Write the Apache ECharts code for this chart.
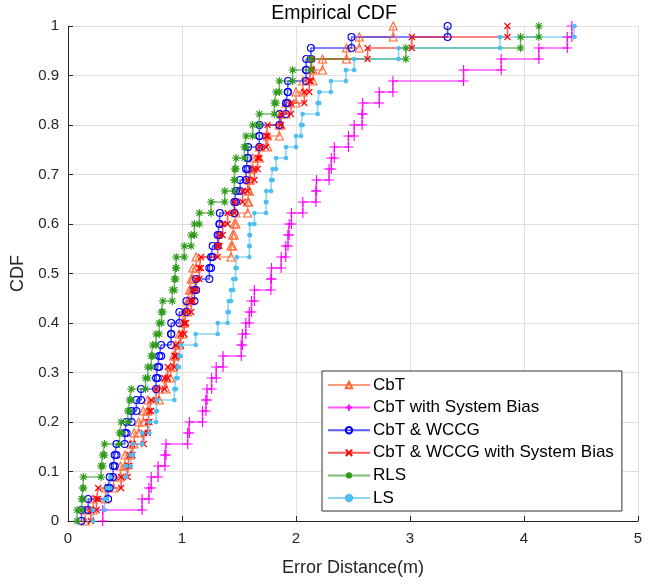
<!DOCTYPE html>
<html>
<head>
<meta charset="utf-8">
<script src="https://cdn.jsdelivr.net/npm/echarts@6/dist/echarts.min.js"></script>
<style>
html,body{margin:0;padding:0;background:#fff;}
#c{width:668px;height:584px;}
</style>
</head>
<body>
<div id="c"></div>
<script>
// Sorted sample values (error distance, m) for each method; 45 samples each
const N = 45;
const cbt = [0.15,0.22,0.33,0.40,0.46,0.50,0.55,0.58,0.62,0.66,0.70,0.80,0.86,0.90,0.925,0.945,0.977,1.006,1.02,1.05,1.065,1.08,1.095,1.124,1.43,1.444,1.459,1.474,1.576,1.585,1.59,1.60,1.62,1.678,1.751,1.854,1.868,1.912,2.0,2.06,2.15,2.233,2.443,2.555,2.853];
const cbtBias = [0.305,0.65,0.71,0.73,0.79,0.85,0.86,1.05,1.065,1.18,1.21,1.22,1.26,1.30,1.36,1.52,1.53,1.56,1.59,1.61,1.635,1.78,1.785,1.87,1.91,1.93,1.94,1.96,2.06,2.175,2.18,2.29,2.31,2.336,2.46,2.51,2.58,2.585,2.73,2.85,3.47,3.80,4.13,4.38,4.42];
const cbtWccg = [0.118,0.177,0.352,0.366,0.396,0.41,0.425,0.498,0.513,0.557,0.60,0.641,0.773,0.787,0.80,0.817,0.904,0.906,0.977,1.04,1.109,1.124,1.24,1.255,1.269,1.313,1.328,1.332,1.46,1.474,1.51,1.562,1.576,1.58,1.678,1.68,1.854,1.912,1.927,1.93,2.088,2.09,2.131,2.487,3.33];
const cbtWccgBias = [0.20,0.25,0.265,0.466,0.524,0.539,0.565,0.665,0.70,0.714,0.729,0.773,0.846,0.875,0.933,0.948,0.99,1.021,1.036,1.08,1.094,1.124,1.152,1.167,1.313,1.328,1.357,1.40,1.46,1.532,1.576,1.635,1.664,1.68,1.737,1.751,1.868,1.956,2.073,2.117,2.13,2.14,2.628,3.016,3.855];
const rls = [0.08,0.12,0.13,0.135,0.29,0.305,0.32,0.452,0.467,0.525,0.54,0.554,0.68,0.70,0.73,0.743,0.773,0.80,0.82,0.831,0.915,0.933,0.945,0.95,1.02,1.08,1.109,1.152,1.255,1.375,1.459,1.462,1.474,1.547,1.562,1.62,1.678,1.81,1.825,1.854,1.97,2.13,2.964,3.97,4.13];
const ls = [0.22,0.32,0.34,0.37,0.51,0.55,0.57,0.65,0.714,0.773,0.78,0.933,0.948,0.962,0.975,0.99,1.12,1.313,1.40,1.41,1.43,1.45,1.47,1.48,1.591,1.593,1.595,1.635,1.737,1.74,1.781,1.795,1.825,1.912,2.0,2.044,2.058,2.19,2.204,2.306,2.438,2.51,2.90,3.79,4.44];

const seriesNames = ['CbT','CbT with System Bias','CbT & WCCG','CbT & WCCG with System Bias','RLS','LS'];
const xTicks = [0,1,2,3,4,5];
const yTicks = [0,0.1,0.2,0.3,0.4,0.5,0.6,0.7,0.8,0.9,1];

function stairs(xs){
  const pts = [];
  xs.forEach(function(x,i){
    pts.push([x, i/N]);
    pts.push([x, (i+1)/N]);
  });
  return pts;
}

const P = {
  plus: 'path://M0,-1L0,1M-1,0L1,0',
  cross: 'path://M-1,-1L1,1M-1,1L1,-1',
  star: 'path://M0,-1L0,1M-1,0L1,0M-0.72,-0.72L0.72,0.72M-0.72,0.72L0.72,-0.72'
};

function mk(name, data, color, symbol, size, fill){
  return {
    name: name,
    type: 'line',
    data: stairs(data),
    symbol: symbol,
    symbolSize: size,
    showSymbol: true,
    animation: false,
    lineStyle: {color: color, width: 1.6, opacity: 0.65},
    itemStyle: {color: fill ? color : 'rgba(255,255,255,0)', borderColor: color, borderWidth: 1.1},
    emphasis: {disabled: true}
  };
}

const chart = echarts.init(document.getElementById('c'), null, {renderer: 'canvas'});
const FONT = 'Liberation Sans, Arial, Helvetica, sans-serif';
chart.setOption({
  animation: false,
  backgroundColor: '#ffffff',
  title: {
    text: 'Empirical CDF',
    left: 'center',
    top: -1,
    textStyle: {fontFamily: FONT, fontSize: 19.5, fontWeight: 'normal', color: '#000'}
  },
  grid: {left: 68, right: 30, top: 26, bottom: 63, containLabel: false},
  legend: {
    orient: 'vertical',
    left: 322,
    top: 371,
    padding: [5, 8, 4, 5],
    itemWidth: 42,
    itemHeight: 8,
    itemGap: 4.6,
    backgroundColor: '#fff',
    borderColor: '#333',
    borderWidth: 1,
    borderRadius: 0,
    textStyle: {fontFamily: FONT, fontSize: 17, color: '#000', lineHeight: 18, padding: [0,0,0,-2]},
    data: seriesNames
  },
  xAxis: {
    type: 'value', min: xTicks[0], max: xTicks[xTicks.length-1], interval: 1,
    name: 'Error Distance(m)', nameLocation: 'middle', nameGap: 38,
    nameTextStyle: {fontFamily: FONT, fontSize: 18, color: '#262626'},
    axisLine: {show: true, lineStyle: {color: '#262626', width: 1}},
    axisTick: {show: true, inside: true, length: 5, lineStyle: {color: '#262626'}},
    axisLabel: {fontFamily: FONT, fontSize: 15, color: '#262626', margin: 10},
    splitLine: {show: true, lineStyle: {color: '#dfdfdf', width: 1}}
  },
  yAxis: {
    type: 'value', min: yTicks[0], max: yTicks[yTicks.length-1], interval: 0.1,
    name: 'CDF', nameLocation: 'middle', nameGap: 35, nameRotate: 90,
    nameTextStyle: {fontFamily: FONT, fontSize: 18, color: '#262626'},
    axisLine: {show: true, lineStyle: {color: '#262626', width: 1}},
    axisTick: {show: true, inside: true, length: 5, lineStyle: {color: '#262626'}},
    axisLabel: {fontFamily: FONT, fontSize: 15, color: '#262626', margin: 9,
      formatter: function(v){ const r = Math.round(v*10)/10; return (r===0||r===1) ? String(r) : r.toFixed(1); }},
    splitLine: {show: true, lineStyle: {color: '#dfdfdf', width: 1}}
  },
  series: [
    mk(seriesNames[0], cbt, '#FF6633', 'triangle', 8, false),
    mk(seriesNames[1], cbtBias, '#FF00FF', P.plus, 10, false),
    mk(seriesNames[2], cbtWccg, '#0000FF', 'circle', 7, false),
    mk(seriesNames[3], cbtWccgBias, '#FF0000', P.cross, 6, false),
    mk(seriesNames[4], rls, '#2E9A1A', P.star, 8, false),
    mk(seriesNames[5], ls, '#4DBEEE', 'circle', 3.5, true)
  ]
});
</script>
</body>
</html>
